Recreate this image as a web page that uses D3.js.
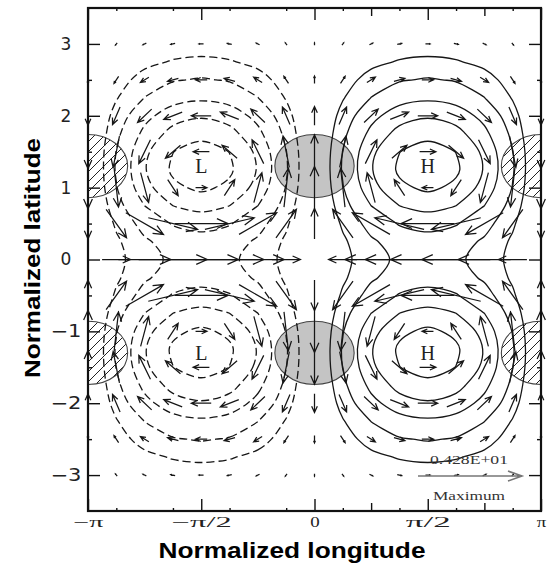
<!DOCTYPE html>
<html>
<head>
<meta charset="utf-8">
<script src="https://cdn.jsdelivr.net/npm/d3@7"></script>
<style>
  body { margin: 0; background: #fff; }
</style>
</head>
<body>
<div id="main"></div>
<script>
// =========================== data ===========================
// tick labels
const lonLabels = ["−π", "−π/2", "0", "π/2", "π"];
const lonLabelSteps = [-8, -4, 0, 4, 8];          // in units of pi/8
const latLabels = [3, 2, 1, 0, -1, -2, -3];

// grid columns, in units of pi/8 (-pi .. pi)
const gridCols = [-8, -7, -6, -5, -4, -3, -2, -1, 0, 1, 2, 3, 4, 5, 6, 7, 8];

// geopotential, rows from lat 3.5 down to -3.5 every 0.25
const phiLats = [3.5, 3.25, 3, 2.75, 2.5, 2.25, 2, 1.75, 1.5, 1.25, 1, 0.75, 0.5, 0.25, 0,
  -0.25, -0.5, -0.75, -1, -1.25, -1.5, -1.75, -2, -2.25, -2.5, -2.75, -3, -3.25, -3.5];
const phiRows = [
  [0,-.015,-.028,-.037,-.040,-.037,-.028,-.015,0,.015,.028,.037,.040,.037,.028,.015,0],
  [0,-.031,-.057,-.074,-.080,-.074,-.057,-.031,0,.031,.057,.074,.080,.074,.057,.031,0],
  [0,-.054,-.099,-.129,-.140,-.129,-.099,-.054,0,.054,.099,.129,.140,.129,.099,.054,0],
  [0,-.092,-.170,-.222,-.240,-.222,-.170,-.092,0,.092,.170,.222,.240,.222,.170,.092,0],
  [0,-.146,-.269,-.351,-.380,-.351,-.269,-.146,0,.146,.269,.351,.380,.351,.269,.146,0],
  [0,-.199,-.368,-.480,-.520,-.480,-.368,-.199,0,.199,.368,.480,.520,.480,.368,.199,0],
  [0,-.268,-.495,-.647,-.700,-.647,-.495,-.268,0,.268,.495,.647,.700,.647,.495,.268,0],
  [0,-.324,-.597,-.781,-.845,-.781,-.597,-.324,0,.324,.597,.781,.845,.781,.597,.324,0],
  [0,-.370,-.682,-.892,-.965,-.892,-.682,-.370,0,.370,.682,.892,.965,.892,.682,.370,0],
  [0,-.383,-.707,-.924,-1.00,-.924,-.707,-.383,0,.383,.707,.924,1.00,.924,.707,.383,0],
  [0,-.356,-.658,-.859,-.930,-.859,-.658,-.356,0,.356,.658,.859,.930,.859,.658,.356,0],
  [0,-.299,-.551,-.721,-.780,-.721,-.551,-.299,0,.299,.551,.721,.780,.721,.551,.299,0],
  [0,-.234,-.431,-.564,-.610,-.564,-.431,-.234,0,.234,.431,.564,.610,.564,.431,.234,0],
  [0,-.184,-.339,-.444,-.480,-.444,-.339,-.184,0,.184,.339,.444,.480,.444,.339,.184,0],
  [0,-.165,-.304,-.397,-.430,-.397,-.304,-.165,0,.165,.304,.397,.430,.397,.304,.165,0],
  [0,-.184,-.339,-.444,-.480,-.444,-.339,-.184,0,.184,.339,.444,.480,.444,.339,.184,0],
  [0,-.234,-.431,-.564,-.610,-.564,-.431,-.234,0,.234,.431,.564,.610,.564,.431,.234,0],
  [0,-.299,-.551,-.721,-.780,-.721,-.551,-.299,0,.299,.551,.721,.780,.721,.551,.299,0],
  [0,-.356,-.658,-.859,-.930,-.859,-.658,-.356,0,.356,.658,.859,.930,.859,.658,.356,0],
  [0,-.383,-.707,-.924,-1.00,-.924,-.707,-.383,0,.383,.707,.924,1.00,.924,.707,.383,0],
  [0,-.370,-.682,-.892,-.965,-.892,-.682,-.370,0,.370,.682,.892,.965,.892,.682,.370,0],
  [0,-.324,-.597,-.781,-.845,-.781,-.597,-.324,0,.324,.597,.781,.845,.781,.597,.324,0],
  [0,-.268,-.495,-.647,-.700,-.647,-.495,-.268,0,.268,.495,.647,.700,.647,.495,.268,0],
  [0,-.199,-.368,-.480,-.520,-.480,-.368,-.199,0,.199,.368,.480,.520,.480,.368,.199,0],
  [0,-.146,-.269,-.351,-.380,-.351,-.269,-.146,0,.146,.269,.351,.380,.351,.269,.146,0],
  [0,-.092,-.170,-.222,-.240,-.222,-.170,-.092,0,.092,.170,.222,.240,.222,.170,.092,0],
  [0,-.054,-.099,-.129,-.140,-.129,-.099,-.054,0,.054,.099,.129,.140,.129,.099,.054,0],
  [0,-.031,-.057,-.074,-.080,-.074,-.057,-.031,0,.031,.057,.074,.080,.074,.057,.031,0],
  [0,-.015,-.028,-.037,-.040,-.037,-.028,-.015,0,.015,.028,.037,.040,.037,.028,.015,0]
];
const phiLevels = [0.21, 0.365, 0.55, 0.72, 0.895];

// wind vectors, rows from lat 3 down to -3 every 0.5
const windLats = [3, 2.5, 2, 1.5, 1, 0.5, 0, -0.5, -1, -1.5, -2, -2.5, -3];
const uRows = [
  [0,-.07,-.14,-.18,-.19,-.18,-.14,-.07,0,.07,.14,.18,.19,.18,.14,.07,0],
  [0,-.19,-.35,-.45,-.49,-.45,-.35,-.19,0,.19,.35,.45,.49,.45,.35,.19,0],
  [0,-.31,-.58,-.76,-.82,-.76,-.58,-.31,0,.31,.58,.76,.82,.76,.58,.31,0],
  [0,-.26,-.48,-.62,-.67,-.62,-.48,-.26,0,.26,.48,.62,.67,.62,.48,.26,0],
  [0,.18,.33,.43,.47,.43,.33,.18,0,-.18,-.33,-.43,-.47,-.43,-.33,-.18,0],
  [0,.84,1.55,2.03,2.19,2.03,1.55,.84,0,-.84,-1.55,-2.03,-2.19,-2.03,-1.55,-.84,0],
  [0,1.17,2.16,2.82,3.06,2.82,2.16,1.17,0,-1.17,-2.16,-2.82,-3.06,-2.82,-2.16,-1.17,0],
  [0,.84,1.55,2.03,2.19,2.03,1.55,.84,0,-.84,-1.55,-2.03,-2.19,-2.03,-1.55,-.84,0],
  [0,.18,.33,.43,.47,.43,.33,.18,0,-.18,-.33,-.43,-.47,-.43,-.33,-.18,0],
  [0,-.26,-.48,-.62,-.67,-.62,-.48,-.26,0,.26,.48,.62,.67,.62,.48,.26,0],
  [0,-.31,-.58,-.76,-.82,-.76,-.58,-.31,0,.31,.58,.76,.82,.76,.58,.31,0],
  [0,-.19,-.35,-.45,-.49,-.45,-.35,-.19,0,.19,.35,.45,.49,.45,.35,.19,0],
  [0,-.07,-.14,-.18,-.19,-.18,-.14,-.07,0,.07,.14,.18,.19,.18,.14,.07,0]
];
const vRows = [
  [-.10,-.09,-.07,-.04,0,.04,.07,.09,.10,.09,.07,.04,0,-.04,-.07,-.09,-.10],
  [-.31,-.29,-.22,-.12,0,.12,.22,.29,.31,.29,.22,.12,0,-.12,-.22,-.29,-.31],
  [-.77,-.72,-.55,-.30,0,.30,.55,.72,.77,.72,.55,.30,0,-.30,-.55,-.72,-.77],
  [-1.39,-1.29,-.98,-.53,0,.53,.98,1.29,1.39,1.29,.98,.53,0,-.53,-.98,-1.29,-1.39],
  [-1.74,-1.60,-1.23,-.66,0,.66,1.23,1.60,1.74,1.60,1.23,.66,0,-.66,-1.23,-1.60,-1.74],
  [-1.26,-1.17,-.89,-.48,0,.48,.89,1.17,1.26,1.17,.89,.48,0,-.48,-.89,-1.17,-1.26],
  [0,0,0,0,0,0,0,0,0,0,0,0,0,0,0,0,0],
  [1.26,1.17,.89,.48,0,-.48,-.89,-1.17,-1.26,-1.17,-.89,-.48,0,.48,.89,1.17,1.26],
  [1.74,1.60,1.23,.66,0,-.66,-1.23,-1.60,-1.74,-1.60,-1.23,-.66,0,.66,1.23,1.60,1.74],
  [1.39,1.29,.98,.53,0,-.53,-.98,-1.29,-1.39,-1.29,-.98,-.53,0,.53,.98,1.29,1.39],
  [.77,.72,.55,.30,0,-.30,-.55,-.72,-.77,-.72,-.55,-.30,0,.30,.55,.72,.77],
  [.31,.29,.22,.12,0,-.12,-.22,-.29,-.31,-.29,-.22,-.12,0,.12,.22,.29,.31],
  [.10,.09,.07,.04,0,-.04,-.07,-.09,-.10,-.09,-.07,-.04,0,.04,.07,.09,.10]
];
const maxWind = 4.28;
const maxWindLabel = "0.428E+01";

// high / low centres
const centreNames = ["L", "H", "L", "H"];
const centreSteps = [-4, 4, -4, 4];
const centreLats = [1.3, 1.3, -1.3, -1.3];

// shaded and hatched patches (centre and half axes, data units)
const shadedSteps = [0, 0];
const shadedLats = [1.3, -1.3];
const hatchedSteps = [-8, 8, -8, 8];
const hatchedLats = [1.3, 1.3, -1.3, -1.3];
const patchAxes = [0.55, 0.44];

// ======================== svg / scales =======================
const W = 548, H = 565;
const plot = { left: 88, right: 541, top: 8, bottom: 511 };
const lon = k => k * Math.PI / 8;

const svg = d3.select('#main').append('svg')
  .attr('width', W).attr('height', H)
  .style('font-family', '"Liberation Serif", serif');

const x = d3.scaleLinear().domain([-Math.PI, Math.PI]).range([plot.left, plot.right]);
const y = d3.scaleLinear().domain([-3.5, 3.5]).range([plot.bottom, plot.top]);
const arrowLen = d3.scaleLinear().domain([0, maxWind]).range([0, 104]);

const defs = svg.append('defs');
defs.append('clipPath').attr('id', 'plotClip').append('rect')
  .attr('x', plot.left).attr('y', plot.top)
  .attr('width', plot.right - plot.left).attr('height', plot.bottom - plot.top);
const hatch = defs.append('pattern').attr('id', 'hatch')
  .attr('patternUnits', 'userSpaceOnUse').attr('width', 10).attr('height', 10);
hatch.append('path').attr('d', 'M-3,3 l6,-6 M0,10 l10,-10 M7,13 l6,-6')
  .attr('stroke', '#222').attr('stroke-width', 1);

const inner = svg.append('g').attr('clip-path', 'url(#plotClip)');

// ======================== patches ===========================
inner.selectAll('ellipse.shaded')
  .data(d3.zip(shadedSteps, shadedLats)).enter().append('ellipse')
  .attr('class', 'shaded')
  .attr('cx', d => x(lon(d[0]))).attr('cy', d => y(d[1]))
  .attr('rx', x(patchAxes[0]) - x(0)).attr('ry', y(0) - y(patchAxes[1]))
  .attr('fill', '#c4c4c4').attr('stroke', '#444').attr('stroke-width', 1.1);

inner.selectAll('ellipse.hatched')
  .data(d3.zip(hatchedSteps, hatchedLats)).enter().append('ellipse')
  .attr('class', 'hatched')
  .attr('cx', d => x(lon(d[0]))).attr('cy', d => y(d[1]))
  .attr('rx', x(patchAxes[0]) - x(0)).attr('ry', y(0) - y(patchAxes[1]))
  .attr('fill', 'url(#hatch)').attr('stroke', '#444').attr('stroke-width', 1.1);

// ======================== contours ==========================
const nx = gridCols.length, ny = phiLats.length;
const latStep = phiLats[0] - phiLats[1];
const flat = phiRows.flat();
const contourGen = d3.contours().size([nx, ny]).thresholds(phiLevels);
// d3.contours puts grid value i at coordinate i + 0.5
const gLon = c => lon(gridCols[0] + (c - 0.5));
const gLat = r => phiLats[0] - (r - 0.5) * latStep;
const ringLine = d3.line()
  .x(p => x(gLon(p[0]))).y(p => y(gLat(p[1])))
  .curve(d3.curveCatmullRomClosed.alpha(0.5));

function drawContours(field, dashed) {
  contourGen(field).forEach(function(c) {
    c.coordinates.forEach(function(poly) {
      poly.forEach(function(ring) {
        inner.append('path')
          .attr('d', ringLine(ring.slice(0, -1)))
          .attr('fill', 'none').attr('stroke', '#161616')
          .attr('stroke-width', 1.3)
          .attr('stroke-dasharray', dashed ? '8,4' : null);
      });
    });
  });
}
drawContours(flat, false);
drawContours(flat.map(v => -v), true);

// ======================== vectors ===========================
const vectors = [];
windLats.forEach(function(lat, j) {
  gridCols.forEach(function(k, i) {
    vectors.push({ lon: lon(k), lat: lat, u: uRows[j][i], v: vRows[j][i] });
  });
});

// arrows are centred on their grid point, as in the original plot
function arrowPath(cx, cy, u, v) {
  const L = arrowLen(Math.hypot(u, v));
  const ang = Math.atan2(-v, u);
  const dx = Math.cos(ang) * L / 2, dy = Math.sin(ang) * L / 2;
  const hx = cx + dx, hy = cy + dy;
  const h = L < 9 ? 0.3 * L : Math.min(12, 4 + 0.16 * L);
  const a = 24 * Math.PI / 180;
  return 'M' + (cx - dx) + ',' + (cy - dy) + 'L' + hx + ',' + hy +
    'M' + (hx - h * Math.cos(ang - a)) + ',' + (hy - h * Math.sin(ang - a)) +
    'L' + hx + ',' + hy +
    'L' + (hx - h * Math.cos(ang + a)) + ',' + (hy - h * Math.sin(ang + a));
}

svg.append('g').selectAll('path')
  .data(vectors.filter(d => d.u !== 0 || d.v !== 0)).enter().append('path')
  .attr('d', d => arrowPath(x(d.lon), y(d.lat), d.u, d.v))
  .attr('fill', 'none').attr('stroke', '#161616').attr('stroke-width', 1.25)
  .attr('stroke-linejoin', 'miter');

// centre letters
svg.append('g').selectAll('text')
  .data(d3.zip(centreNames, centreSteps, centreLats)).enter().append('text')
  .attr('x', d => x(lon(d[1]))).attr('y', d => y(d[2]))
  .attr('dy', '0.35em').attr('text-anchor', 'middle')
  .attr('font-size', 20).attr('fill', '#222')
  .text(d => d[0]);

// ======================== axes ==============================
function styleAxis(g) {
  g.select('.domain').remove();
  g.selectAll('.tick line').attr('stroke', '#111').attr('stroke-width', 1.4);
}
const allSteps = d3.range(-8, 9);
const lonAt = list => list.map(lon);

[['bottom', plot.bottom, d3.axisBottom], ['top', plot.top, d3.axisTop]].forEach(function(s) {
  const mk = s[2];
  svg.append('g').attr('transform', 'translate(0,' + s[1] + ')')
    .call(mk(x).tickValues(lonAt(allSteps.filter(k => k % 2 !== 0))).tickSize(-3).tickFormat(''))
    .call(styleAxis);
  svg.append('g').attr('transform', 'translate(0,' + s[1] + ')')
    .call(mk(x).tickValues(lonAt(allSteps.filter(k => k % 4 === 2))).tickSize(-8).tickFormat(''))
    .call(styleAxis);
  const major = svg.append('g').attr('transform', 'translate(0,' + s[1] + ')')
    .call(mk(x).tickValues(lonAt(lonLabelSteps)).tickSize(-12).tickPadding(6)
      .tickFormat((d, i) => s[0] === 'bottom' ? lonLabels[i] : ''))
    .call(styleAxis);
  major.selectAll('text')
    .attr('font-family', '"Liberation Serif", serif').attr('font-size', 14)
    .attr('fill', '#222')
    .each(function() {
      const t = d3.select(this).text();
      if (t.length > 1) d3.select(this).attr('textLength', 15 * t.length).attr('lengthAdjust', 'spacingAndGlyphs');
      else d3.select(this).attr('transform', 'scale(1.35,1)').attr('x', 0);
    });
});

[['left', plot.left, d3.axisLeft], ['right', plot.right, d3.axisRight]].forEach(function(s) {
  const mk = s[2];
  svg.append('g').attr('transform', 'translate(' + s[1] + ',0)')
    .call(mk(y).tickValues([-2.5, -1.5, -0.5, 0.5, 1.5, 2.5]).tickSize(-4).tickFormat(''))
    .call(styleAxis);
  const major = svg.append('g').attr('transform', 'translate(' + s[1] + ',0)')
    .call(mk(y).tickValues(latLabels).tickSize(-12)
      .tickFormat(d => s[0] === 'left' ? (d < 0 ? '−' + (-d) : String(d)) : ''))
    .call(styleAxis);
  major.selectAll('text')
    .attr('x', -22).attr('text-anchor', 'middle')
    .attr('font-family', '"DejaVu Sans", sans-serif').attr('font-size', 17)
    .attr('fill', '#222')
    .each(function() {
      const t = d3.select(this).text();
      if (t.length > 1) d3.select(this).attr('textLength', 31).attr('lengthAdjust', 'spacingAndGlyphs');
    });
});

// frame
svg.append('rect')
  .attr('x', plot.left).attr('y', plot.top)
  .attr('width', plot.right - plot.left).attr('height', plot.bottom - plot.top)
  .attr('fill', 'none').attr('stroke', '#111').attr('stroke-width', 2.2);

// ======================== reference vector ==================
const refEnd = 522, refY = y(-3) + 1;
const refLen = arrowLen(maxWind);
svg.append('path')
  .attr('d', 'M' + (refEnd - refLen) + ',' + refY + 'L' + refEnd + ',' + refY +
    'M' + (refEnd - 14) + ',' + (refY - 5) + 'L' + refEnd + ',' + refY + 'L' + (refEnd - 14) + ',' + (refY + 5))
  .attr('fill', 'none').attr('stroke', '#777').attr('stroke-width', 1.6);
svg.append('text').attr('x', 469).attr('y', 464).attr('text-anchor', 'middle')
  .attr('font-size', 13).attr('fill', '#333')
  .attr('textLength', 78).attr('lengthAdjust', 'spacingAndGlyphs')
  .text(maxWindLabel);
svg.append('text').attr('x', 469).attr('y', 500).attr('text-anchor', 'middle')
  .attr('font-size', 13).attr('fill', '#333')
  .attr('textLength', 72).attr('lengthAdjust', 'spacingAndGlyphs')
  .text('Maximum');

// ======================== titles ============================
svg.append('text')
  .attr('x', 292).attr('y', 558).attr('text-anchor', 'middle')
  .attr('font-family', '"Liberation Sans", Arial, sans-serif')
  .attr('font-weight', 'bold').attr('font-size', 22)
  .attr('textLength', 267).attr('lengthAdjust', 'spacingAndGlyphs')
  .text('Normalized longitude');
svg.append('text')
  .attr('transform', 'translate(40,258) rotate(-90)').attr('text-anchor', 'middle')
  .attr('font-family', '"Liberation Sans", Arial, sans-serif')
  .attr('font-weight', 'bold').attr('font-size', 22)
  .attr('textLength', 240).attr('lengthAdjust', 'spacingAndGlyphs')
  .text('Normalized latitude');
</script>
</body>
</html>
